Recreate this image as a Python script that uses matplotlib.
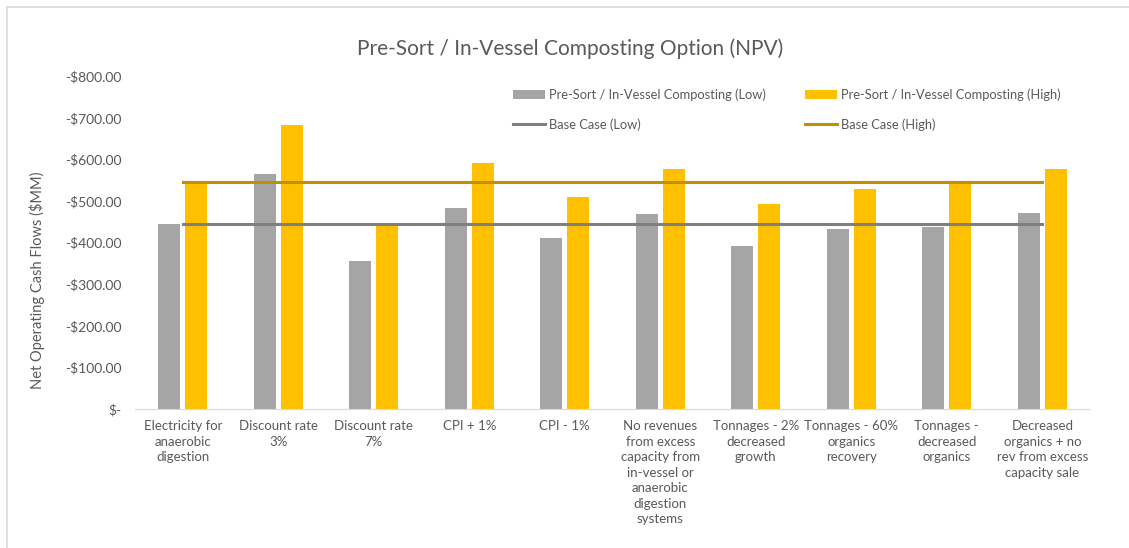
import numpy as np
import matplotlib.pyplot as plt
from matplotlib.ticker import FuncFormatter
from matplotlib.patches import Rectangle

plt.rcParams['font.family'] = ['Lato', 'DejaVu Sans']

# scenario labels (wrapped as in the original chart)
categories = [
    "Electricity for\nanaerobic\ndigestion",
    "Discount rate\n3%",
    "Discount rate\n7%",
    "CPI + 1%",
    "CPI - 1%",
    "No revenues\nfrom excess\ncapacity from\nin-vessel or\nanaerobic\ndigestion\nsystems",
    "Tonnages - 2%\ndecreased\ngrowth",
    "Tonnages - 60%\norganics\nrecovery",
    "Tonnages -\ndecreased\norganics",
    "Decreased\norganics + no\nrev from excess\ncapacity sale",
]

# NPV in $MM (negative = cost)
low = [-445, -565, -356, -483, -411, -469, -392, -433, -438, -471]
high = [-545, -683, -445, -591, -510, -577, -493, -529, -541, -577]
base_low = -445
base_high = -546

txt = '#595959'

fig = plt.figure(figsize=(11.29, 5.48), dpi=100)
# outer chart frame (only left and top edges visible in the source)
fig.patches.append(Rectangle((0.0066, -0.1), 1.2, 1.087, transform=fig.transFigure,
                             fill=False, edgecolor='#D9D9D9', linewidth=1.2))
ax = fig.add_axes([0.1196, 0.2536, 0.8459, 0.6074])

x = np.arange(len(categories))
w = 0.23
off = 0.14
ax.bar(x - off, low, w, color='#A5A5A5', label='Pre-Sort / In-Vessel Composting (Low)')
ax.bar(x + off, high, w, color='#FFC000', label='Pre-Sort / In-Vessel Composting (High)')
ax.plot(x, [base_low] * len(x), color='#7F7F7F', lw=2.2, label='Base Case (Low)')
ax.plot(x, [base_high] * len(x), color='#BF9000', lw=2.2, label='Base Case (High)')

ax.set_xlim(-0.5, len(x) - 0.5)
ax.set_ylim(0, -800)
ax.set_yticks(np.arange(0, -801, -100))
ax.yaxis.set_major_formatter(FuncFormatter(
    lambda v, p: "$-" if abs(v) < 1e-9 else f"-${abs(v):,.2f}"))
ax.set_xticks(x)
ax.set_xticklabels(categories, fontsize=9.5, color=txt, linespacing=1.35)
ax.tick_params(axis='y', labelsize=10, labelcolor=txt, length=0, pad=10)
ax.tick_params(axis='x', length=0, pad=8)

for s in ['top', 'right', 'left']:
    ax.spines[s].set_visible(False)
ax.spines['bottom'].set_color('#D9D9D9')

ax.set_ylabel('Net Operating Cash Flows ($MM)', fontsize=10.5, color=txt)
ax.yaxis.set_label_coords(-0.094, 0.387)
fig.text(0.505, 0.912, 'Pre-Sort / In-Vessel Composting Option (NPV)',
         ha='center', va='center', fontsize=15, color=txt)

h, l = ax.get_legend_handles_labels()
# column-major fill: left column = Low entries, right column = High entries
handles = [h[2], h[0], h[3], h[1]]
labels = [l[2], l[0], l[3], l[1]]
fig.legend(handles, labels, ncol=2, loc='upper left',
           bbox_to_anchor=(0.444, 0.86), frameon=False, fontsize=9.3,
           handlelength=2.5, handletextpad=0.3, columnspacing=3.0,
           labelspacing=1.35, labelcolor=txt)

fig.savefig('out.png', dpi=100)
